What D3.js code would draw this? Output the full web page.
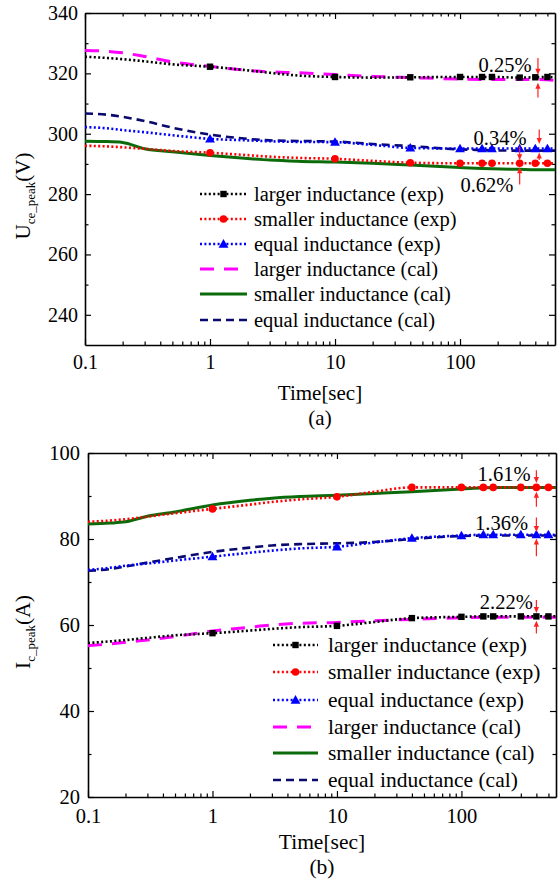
<!DOCTYPE html>
<html>
<head>
<meta charset="utf-8">
<script src="https://cdn.jsdelivr.net/npm/d3@7"></script>
<style>
  html, body { margin: 0; padding: 0; background: #fff; }
  svg text { font-family: "Times New Roman", "Liberation Serif", Times, "DejaVu Serif", serif !important; fill: #000; }
</style>
</head>
<body>
<svg id="chart" width="560" height="882" font-family="Times New Roman, Liberation Serif, serif"></svg>
<script>
// ---------------- DATA ----------------
const times = [0.1, 0.15, 0.2, 0.3, 0.5, 1, 2, 3, 5, 10, 20, 40, 100, 150, 180, 300, 400, 500, 575];
const markerTimes = [1, 10, 40, 100, 150, 180, 300, 400, 500];

const legendLabels = [
  "larger inductance (exp)", "smaller inductance (exp)", "equal inductance (exp)",
  "larger inductance (cal)", "smaller inductance (cal)", "equal inductance (cal)"
];

// (a) Uce_peak (V)
const topLargerExp  = [325.5,325.1,324.7,324.0,323.0,322.2,321.0,320.2,319.3,318.8,318.6,318.7,318.8,318.8,318.8,318.6,318.7,318.8,318.6];
const topSmallerExp = [296.0,295.8,295.5,295.0,294.3,293.7,292.9,292.4,292.0,291.7,291.0,290.4,290.2,290.2,290.2,290.2,290.2,290.2,290.2];
const topEqualExp   = [302.2,301.8,301.2,300.5,299.5,298.3,297.8,297.5,297.3,297.2,296.3,295.3,295.1,295.1,295.1,295.1,295.1,295.1,295.1];
const topLargerCal  = [327.6,327.3,326.8,325.6,323.8,322.3,321.0,320.5,320.2,319.6,319.0,318.6,318.1,318.0,318.0,318.0,318.0,317.9,317.7];
const topSmallerCal = [297.5,297.4,297.1,295.0,294.0,292.8,291.8,291.3,290.9,290.6,290.2,289.6,288.8,288.5,288.4,288.2,288.1,288.1,288.1];
const topEqualCal   = [306.7,306.3,305.6,304.2,302.0,299.7,298.3,297.8,297.6,297.4,296.6,295.9,294.8,294.6,294.5,294.4,294.4,294.4,294.4];
const topYTicks = [240, 260, 280, 300, 320, 340];
const topYMinor = [250, 270, 290, 310, 330];
const topAnnotations = [
  { text: "0.25%", t: 229, v: 322.8 },
  { text: "0.34%", t: 209, v: 298.7 },
  { text: "0.62%", t: 164, v: 283.2 }
];
// error arrows: [top tail, top tip, bottom tip, bottom tail]
const topErrors = [
  { t: 420, v: [325.1, 319.5, 316.9, 312.0] },
  { t: 430, v: [301.4, 296.6, 293.8, 291.3] },
  { t: 300, v: [295.8, 291.2, 288.9, 283.2] }
];

// (b) Ic_peak (A)
const botLargerExp  = [55.8,56.2,56.5,57.0,57.6,58.1,58.7,59.1,59.5,59.8,60.7,61.6,61.9,62.0,62.0,62.0,62.0,62.0,62.0];
const botSmallerExp = [84.0,84.3,84.6,85.2,86.0,87.0,88.0,88.6,89.2,89.8,91.0,92.0,92.0,92.0,92.0,92.0,92.0,92.0,91.9];
const botEqualExp   = [72.8,73.3,73.8,74.3,75.0,75.9,76.8,77.3,77.8,78.2,79.2,80.2,80.8,81.0,81.0,81.0,81.0,81.0,80.9];
const botLargerCal  = [55.2,55.6,56.0,56.5,57.3,58.6,59.5,60.0,60.4,60.6,61.0,61.3,61.7,61.8,61.8,61.8,61.8,61.8,61.8];
const botSmallerCal = [83.5,83.7,84.0,85.3,86.3,87.9,89.0,89.5,89.9,90.2,90.6,91.0,91.6,91.9,92.0,92.0,92.0,92.0,92.0];
const botEqualCal   = [72.6,73.0,73.6,74.5,75.6,77.0,78.0,78.5,78.8,79.0,79.3,80.0,80.7,80.8,80.8,80.8,80.8,80.8,80.8];
const botYTicks = [20, 40, 60, 80, 100];
const botYMinor = [30, 50, 70, 90];
const botAnnotations = [
  { text: "1.61%", t: 220, v: 95.1 },
  { text: "1.36%", t: 210, v: 83.7 },
  { text: "2.22%", t: 229, v: 65.3 }
];
const botErrors = [
  { t: 400, v: [96.0, 93.0, 91.0, 87.5] },
  { t: 400, v: [85.0, 81.6, 80.1, 76.0] },
  { t: 400, v: [65.8, 62.8, 61.0, 58.0] }
];

const xTicks = [0.1, 1, 10, 100];
const xMinor = [];
[0.1, 1, 10, 100].forEach(d => { for (let k = 2; k <= 9; k++) { const v = d * k; if (v <= 575) xMinor.push(+v.toPrecision(3)); } });

// ---------------- STYLES ----------------
const FONT = "Times New Roman, Liberation Serif, serif";
const styles = [
  { color: "#000000", dash: "2,2.4", width: 2.6, marker: "square" },
  { color: "#ff0000", dash: "2,2.4", width: 2.6, marker: "circle" },
  { color: "#0000ff", dash: "2,2.4", width: 2.6, marker: "triangle" },
  { color: "#ff00ff", dash: "14,10", width: 3, marker: null },
  { color: "#0b6b0b", dash: null, width: 3, marker: null },
  { color: "#0a0a6e", dash: "8,5", width: 2.6, marker: null }
];

const svg = d3.select("#chart");

function drawMarker(g, type, cx, cy, color) {
  if (type === "square") {
    g.append("rect").attr("x", cx - 3.2).attr("y", cy - 3.2).attr("width", 6.4).attr("height", 6.4).attr("fill", color);
  } else if (type === "circle") {
    g.append("circle").attr("cx", cx).attr("cy", cy).attr("r", 3.8).attr("fill", color);
  } else if (type === "triangle") {
    g.append("path").attr("d", d3.symbol().type(d3.symbolTriangle).size(42)()).attr("transform", `translate(${cx},${cy + 0.8})`).attr("fill", color);
  }
}

function drawArrow(g, x, y1, y2) {
  const dir = y2 > y1 ? 1 : -1;
  g.append("line").attr("x1", x).attr("x2", x).attr("y1", y1).attr("y2", y2 - dir * 4)
    .attr("stroke", "#ff2020").attr("stroke-width", 1.2);
  g.append("path").attr("d", `M${x - 2.6},${y2 - dir * 6} L${x + 2.6},${y2 - dir * 6} L${x},${y2} Z`).attr("fill", "#ff2020");
}

function drawChart(cfg) {
  const g = svg.append("g").attr("font-family", FONT);
  const x = d3.scaleLog().domain([0.1, 575]).range([cfg.left, cfg.right]);
  const y = d3.scaleLinear().domain(cfg.yDomain).range([cfg.bottom, cfg.top]);

  const axisStyle = sel => {
    sel.attr("font-family", FONT);
    sel.select(".domain").attr("stroke", "#000").attr("stroke-width", 1.6);
    sel.selectAll(".tick line").attr("stroke", "#000").attr("stroke-width", 1.2);
    sel.selectAll(".tick text").attr("font-size", cfg.tickFont).attr("font-family", FONT);
  };
  const fmt = d => (d === 0.1 ? "0.1" : d3.format("d")(d));
  g.append("g").attr("transform", `translate(0,${cfg.bottom})`)
    .call(d3.axisBottom(x).tickValues(xTicks).tickFormat(fmt).tickSizeInner(-6).tickSizeOuter(0).tickPadding(cfg.xPad)).call(axisStyle);
  g.append("g").attr("transform", `translate(0,${cfg.bottom})`)
    .call(d3.axisBottom(x).tickValues(xMinor).tickFormat("").tickSizeInner(-3.5).tickSizeOuter(0)).call(axisStyle)
    .select(".domain").remove();
  g.append("g").attr("transform", `translate(0,${cfg.top})`)
    .call(d3.axisTop(x).tickValues(xTicks).tickFormat("").tickSizeInner(-6).tickSizeOuter(0)).call(axisStyle);
  g.append("g").attr("transform", `translate(0,${cfg.top})`)
    .call(d3.axisTop(x).tickValues(xMinor).tickFormat("").tickSizeInner(-3.5).tickSizeOuter(0)).call(axisStyle)
    .select(".domain").remove();

  g.append("g").attr("transform", `translate(${cfg.left},0)`)
    .call(d3.axisLeft(y).tickValues(cfg.yTicks).tickFormat(d3.format("d")).tickSizeInner(-6).tickSizeOuter(0).tickPadding(cfg.yPad)).call(axisStyle);
  g.append("g").attr("transform", `translate(${cfg.left},0)`)
    .call(d3.axisLeft(y).tickValues(cfg.yMinor).tickFormat("").tickSizeInner(-3.5).tickSizeOuter(0)).call(axisStyle)
    .select(".domain").remove();
  g.append("g").attr("transform", `translate(${cfg.right},0)`)
    .call(d3.axisRight(y).tickValues(cfg.yTicks).tickFormat("").tickSizeInner(-6).tickSizeOuter(0)).call(axisStyle);
  g.append("g").attr("transform", `translate(${cfg.right},0)`)
    .call(d3.axisRight(y).tickValues(cfg.yMinor).tickFormat("").tickSizeInner(-3.5).tickSizeOuter(0)).call(axisStyle)
    .select(".domain").remove();

  const line = d3.line().x(d => x(d.t)).y(d => y(d.v)).curve(d3.curveMonotoneX);
  const plot = g.append("g");
  const order = [3, 4, 5, 0, 1, 2];
  order.forEach(i => {
    const st = styles[i];
    const pts = times.map((t, k) => ({ t, v: cfg.series[i][k] }));
    plot.append("path").datum(pts).attr("d", line).attr("fill", "none")
      .attr("stroke", st.color).attr("stroke-width", st.width)
      .attr("stroke-dasharray", st.dash);
    if (st.marker) {
      pts.filter(p => markerTimes.includes(p.t)).forEach(p => drawMarker(plot, st.marker, x(p.t), y(p.v), st.color));
    }
  });

  cfg.errors.forEach(e => {
    const xx = x(e.t);
    drawArrow(g, xx, y(e.v[0]), y(e.v[1]));
    drawArrow(g, xx, y(e.v[3]), y(e.v[2]));
  });

  cfg.annotations.forEach(a => {
    g.append("text").attr("x", x(a.t)).attr("y", y(a.v)).attr("dy", "0.35em").attr("font-family", FONT)
      .attr("text-anchor", "middle").attr("font-size", cfg.annFont).text(a.text);
  });

  const lg = g.append("g");
  legendLabels.forEach((lab, i) => {
    const st = styles[i];
    const yy = cfg.legendY[i];
    lg.append("line").attr("x1", cfg.legendX[0]).attr("x2", cfg.legendX[1]).attr("y1", yy).attr("y2", yy)
      .attr("stroke", st.color).attr("stroke-width", st.width).attr("stroke-dasharray", st.dash);
    if (st.marker) drawMarker(lg, st.marker, (cfg.legendX[0] + cfg.legendX[1]) / 2, yy, st.color);
    lg.append("text").attr("x", cfg.legendX[2]).attr("y", yy).attr("dy", "0.33em").attr("font-family", FONT)
      .attr("font-size", cfg.legendFont).text(lab);
  });

  g.append("text").attr("x", (cfg.left + cfg.right) / 2).attr("y", cfg.xTitleY).attr("text-anchor", "middle")
    .attr("font-size", cfg.titleFont).attr("font-family", FONT).text("Time[sec]");
  g.append("text").attr("x", (cfg.left + cfg.right) / 2).attr("y", cfg.capY).attr("text-anchor", "middle")
    .attr("font-size", cfg.titleFont).attr("font-family", FONT).text(cfg.caption);

  const yl = g.append("text").attr("transform", `translate(${cfg.yTitleX},${cfg.yTitleY}) rotate(-90)`)
    .attr("text-anchor", "middle").attr("font-size", cfg.titleFont).attr("font-family", FONT);
  yl.append("tspan").text(cfg.yMain);
  yl.append("tspan").attr("dy", 5).attr("font-size", 13).text(cfg.ySub);
  yl.append("tspan").attr("dy", -5).text(cfg.yUnit);
}

drawChart({
  left: 85, right: 555, top: 13, bottom: 345,
  yDomain: [230, 340], yTicks: topYTicks, yMinor: topYMinor,
  series: [topLargerExp, topSmallerExp, topEqualExp, topLargerCal, topSmallerCal, topEqualCal],
  errors: topErrors, annotations: topAnnotations,
  legendY: [194, 219, 244, 269, 294, 320], legendX: [200, 247, 254],
  tickFont: 20, legendFont: 20.5, annFont: 20.5, titleFont: 21,
  xPad: 10, yPad: 7,
  xTitleY: 400, capY: 425, caption: "(a)",
  yTitleX: 30, yTitleY: 196, yMain: "U", ySub: "ce_peak", yUnit: "(V)"
});

drawChart({
  left: 88, right: 556, top: 453, bottom: 797,
  yDomain: [20, 100], yTicks: botYTicks, yMinor: botYMinor,
  series: [botLargerExp, botSmallerExp, botEqualExp, botLargerCal, botSmallerCal, botEqualCal],
  errors: botErrors, annotations: botAnnotations,
  legendY: [645, 672, 700, 727, 753, 780], legendX: [273, 318, 328],
  tickFont: 20.5, legendFont: 21.5, annFont: 20.5, titleFont: 21.5,
  xPad: 11, yPad: 8,
  xTitleY: 849, capY: 874, caption: "(b)",
  yTitleX: 30, yTitleY: 632, yMain: "I", ySub: "c_peak", yUnit: "(A)"
});
</script>
</body>
</html>
